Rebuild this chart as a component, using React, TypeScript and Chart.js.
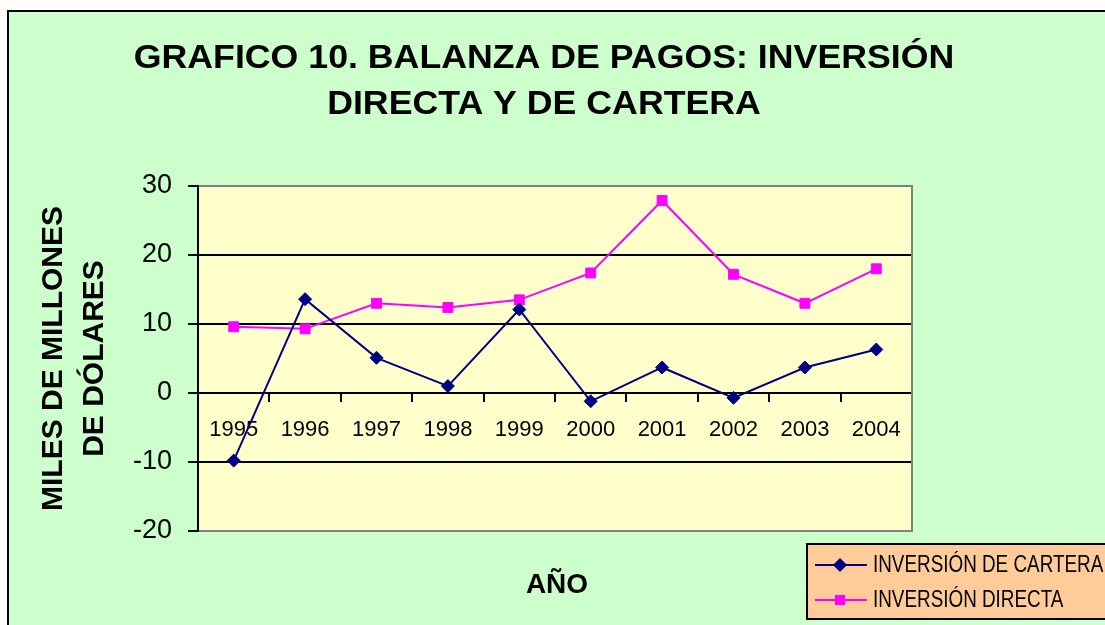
import React, { useEffect, useRef } from "react";
import { Chart, registerables } from "chart.js";

Chart.register(...registerables);

const years = ["1995", "1996", "1997", "1998", "1999", "2000", "2001", "2002", "2003", "2004"];
const inversionCartera = [-9.8, 13.6, 5.1, 1.0, 12.1, -1.2, 3.7, -0.7, 3.7, 6.3];
const inversionDirecta = [9.6, 9.3, 13.0, 12.4, 13.5, 17.4, 27.9, 17.2, 13.0, 18.0];
const yMin = -20;
const yMax = 30;
const yStep = 10;
const titleLines = ["GRAFICO 10. BALANZA DE PAGOS: INVERSIÓN", "DIRECTA Y DE CARTERA"];
const yAxisTitle = ["MILES DE MILLONES", "DE DÓLARES"];
const xAxisTitle = "AÑO";
const seriesNames = ["INVERSIÓN DE CARTERA", "INVERSIÓN DIRECTA"];

const FONT = "'Liberation Sans', Arial, Helvetica, sans-serif";
const GREEN = "#CCFFCC";
const PLOT = "#FFFFCC";
const LEGEND_BG = "#FFCC99";
const NAVY = "#000080";
const MAGENTA = "#FF00FF";
const GRAY = "#808080";

const W = 1105;
const H = 625;

const decorPlugin = {
  id: "decor",
  beforeDraw(chart: any) {
    const ctx = chart.ctx;
    const ca = chart.chartArea;
    ctx.save();
    ctx.fillStyle = "#ffffff";
    ctx.fillRect(0, 0, W, H);
    ctx.fillStyle = GREEN;
    ctx.fillRect(8, 11, W + 20, H + 20);
    ctx.strokeStyle = "#000000";
    ctx.lineWidth = 2;
    ctx.strokeRect(8, 11, W + 20, H + 20);
    ctx.fillStyle = PLOT;
    ctx.fillRect(ca.left, ca.top, ca.right - ca.left, ca.bottom - ca.top);
    ctx.restore();
  },
  beforeDatasetsDraw(chart: any) {
    const ctx = chart.ctx;
    const ca = chart.chartArea;
    ctx.save();
    ctx.strokeStyle = GRAY;
    ctx.lineWidth = 2;
    ctx.beginPath();
    ctx.moveTo(ca.right, ca.top - 1);
    ctx.lineTo(ca.right, ca.bottom + 1);
    ctx.stroke();
    ctx.restore();
  },
  afterDraw(chart: any) {
    const ctx = chart.ctx;
    ctx.save();
    // main title
    ctx.fillStyle = "#000000";
    ctx.textAlign = "center";
    ctx.textBaseline = "alphabetic";
    ctx.font = `bold 34px ${FONT}`;
    const titleBaselines = [68, 114];
    titleLines.forEach((line, i) => {
      ctx.save();
      ctx.translate(544, titleBaselines[i]);
      ctx.scale(1.05, 1);
      ctx.fillText(line, 0, 0);
      ctx.restore();
    });
    // x axis title
    ctx.font = `bold 28px ${FONT}`;
    ctx.textBaseline = "middle";
    ctx.fillText(xAxisTitle, 557, 585);

    // legend box
    const lx = 807;
    const ly = 544;
    ctx.fillStyle = LEGEND_BG;
    ctx.fillRect(lx, ly, W, 75);
    ctx.strokeStyle = "#000000";
    ctx.lineWidth = 2;
    ctx.strokeRect(lx, ly, W, 75);

    const rows = [
      { name: seriesNames[0], color: NAVY, y: 565, style: "diamond" },
      { name: seriesNames[1], color: MAGENTA, y: 600, style: "square" },
    ];
    for (const r of rows) {
      ctx.strokeStyle = r.color;
      ctx.lineWidth = 2;
      ctx.beginPath();
      ctx.moveTo(815, r.y);
      ctx.lineTo(867, r.y);
      ctx.stroke();
      ctx.fillStyle = r.color;
      ctx.beginPath();
      if (r.style === "diamond") {
        ctx.moveTo(840, r.y - 7);
        ctx.lineTo(847, r.y);
        ctx.lineTo(840, r.y + 7);
        ctx.lineTo(833, r.y);
        ctx.closePath();
      } else {
        ctx.rect(835, r.y - 5, 10, 10);
      }
      ctx.fill();
      ctx.save();
      ctx.translate(873, r.y + 1);
      ctx.scale(0.82, 1);
      ctx.fillStyle = "#000000";
      ctx.textAlign = "left";
      ctx.textBaseline = "middle";
      ctx.font = `23px ${FONT}`;
      ctx.fillText(r.name, 0, 0);
      ctx.restore();
    }
    ctx.restore();
  },
};

export default function App() {
  const ref = useRef<HTMLCanvasElement | null>(null);

  useEffect(() => {
    if (!ref.current) return;
    const chart = new Chart(ref.current, {
      type: "line",
      data: {
        labels: years,
        datasets: [
          {
            label: seriesNames[0],
            data: inversionCartera,
            borderColor: NAVY,
            backgroundColor: NAVY,
            borderWidth: 2,
            pointStyle: "rectRot",
            pointRadius: 6.5,
            pointBorderWidth: 1,
            pointBackgroundColor: NAVY,
            pointBorderColor: NAVY,
            tension: 0,
          },
          {
            label: seriesNames[1],
            data: inversionDirecta,
            borderColor: MAGENTA,
            backgroundColor: MAGENTA,
            borderWidth: 2,
            pointStyle: "rect",
            pointRadius: 7,
            pointBorderWidth: 1,
            pointBackgroundColor: MAGENTA,
            pointBorderColor: MAGENTA,
            tension: 0,
          },
        ],
      },
      options: {
        responsive: false,
        animation: false,
        devicePixelRatio: 1,
        layout: { padding: { left: 18, right: 193, top: 186, bottom: 94 } },
        plugins: {
          legend: { display: false },
          tooltip: { enabled: false },
          title: { display: false },
        },
        scales: {
          x: {
            type: "category",
            position: { y: 0 } as any,
            offset: true,
            grid: {
              offset: true,
              drawOnChartArea: false,
              drawTicks: true,
              tickLength: 8,
              color: "#000000",
              lineWidth: 2,
            },
            border: { display: true, color: "#000000", width: 2 },
            ticks: {
              color: "#000000",
              font: { family: FONT, size: 22 },
              padding: 16,
              maxRotation: 0,
              autoSkip: false,
            },
          },
          y: {
            type: "linear",
            position: "left",
            min: yMin,
            max: yMax,
            afterFit: (scale: any) => {
              scale.width = 180;
            },
            ticks: {
              stepSize: yStep,
              color: "#000000",
              font: { family: FONT, size: 27 },
              padding: 16,
            },
            grid: {
              color: (c: any) =>
                c.tick && (c.tick.value === yMax || c.tick.value === yMin) ? GRAY : "#000000",
              tickColor: "#000000",
              lineWidth: 2,
              tickLength: 10,
            },
            border: { display: true, color: "#000000", width: 2 },
            title: {
              display: true,
              text: yAxisTitle,
              color: "#000000",
              font: { family: FONT, size: 30, weight: "bold", lineHeight: "41px" } as any,
              padding: { top: 15.5, bottom: 0 },
            },
          },
        },
      },
      plugins: [decorPlugin],
    });
    return () => chart.destroy();
  }, []);

  return (
    <div style={{ position: "fixed", left: 0, top: 0, width: W, height: H, overflow: "hidden" }}>
      <canvas ref={ref} width={W} height={H} style={{ display: "block", width: W, height: H }} />
    </div>
  );
}
